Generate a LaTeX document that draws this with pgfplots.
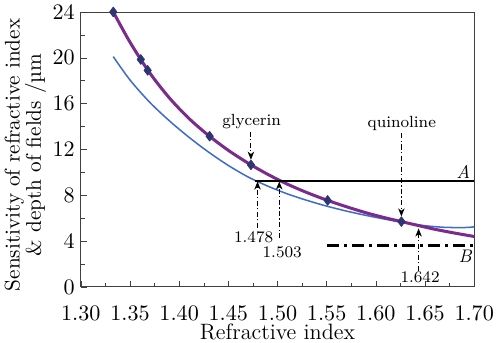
\documentclass[border=0pt]{standalone}
\usepackage{pgfplots}
\pgfplotsset{compat=1.18}
\usetikzlibrary{arrows.meta}
\definecolor{purp}{HTML}{7A2B8C}
\definecolor{blu}{HTML}{3E6CC8}
\definecolor{mk}{HTML}{2F3572}
\begin{document}
\begin{tikzpicture}
\useasboundingbox (-40pt,-27.7pt) rectangle (206pt,142pt);
\begin{axis}[
  scale only axis, width=194.7pt, height=136.1pt,
  xmin=1.30, xmax=1.70, ymin=0, ymax=24,
  xtick={1.30,1.35,1.40,1.45,1.50,1.55,1.60,1.65,1.70},
  ytick={0,4,8,12,16,20,24},
  minor x tick num=1, minor y tick num=1,
  tick pos=left, tick align=inside,
  major tick length=3pt, minor tick length=2pt,
  tick label style={font=\fontsize{11}{13}\selectfont},
  xticklabel style={/pgf/number format/fixed, /pgf/number format/fixed zerofill, /pgf/number format/precision=2, inner sep=1pt, yshift=-8.3pt},
  yticklabel style={xshift=0.5pt},
  axis line style={black!75}, tick style={black!75},
  clip=false,
  every axis plot/.append style={line join=round},
]
% blue curve
\addplot[blu, line width=0.75pt, smooth] coordinates {
 (1.333,20.1) (1.35,18.06) (1.37,16.12) (1.39,14.5) (1.41,13.06) (1.43,11.76)
 (1.45,10.6) (1.47,9.6) (1.49,8.8) (1.51,8.12) (1.53,7.55) (1.55,7.05)
 (1.57,6.62) (1.59,6.24) (1.61,5.9) (1.63,5.59) (1.65,5.34) (1.67,5.2)
 (1.69,5.18) (1.70,5.24)};
% purple curve
\addplot[purp, line width=1.5pt, smooth] coordinates {
 (1.333,24) (1.35,21.36) (1.37,18.69) (1.39,16.5) (1.41,14.7) (1.43,13.21)
 (1.45,11.92) (1.47,10.81) (1.49,9.83) (1.51,8.97) (1.53,8.23) (1.55,7.58)
 (1.57,7.0) (1.59,6.47) (1.61,6.02) (1.626,5.7) (1.642,5.38) (1.66,5.03)
 (1.68,4.7) (1.70,4.4)};
% measured points
\addplot[only marks, mark=diamond*, mark size=2.4pt, mk] coordinates {
 (1.333,24) (1.361,19.85) (1.368,18.9) (1.431,13.15) (1.473,10.65) (1.551,7.55) (1.626,5.7)};
% line A
\addplot[black, line width=1pt] coordinates {(1.4774,9.25) (1.70,9.25)};
% line B
\addplot[black, line width=1.3pt, dash pattern=on 6pt off 2.5pt on 1.5pt off 2.5pt] coordinates {(1.550,3.6) (1.70,3.6)};

\node[font=\itshape\small] at (axis cs:1.689,10.0) {A};
\node[font=\itshape\small] at (axis cs:1.691,2.65) {B};

\tikzset{ann/.style={black, line width=0.5pt, dash pattern=on 2.5pt off 1.2pt on 0.6pt off 1.2pt, -{Stealth[length=4pt,width=3.2pt,inset=1.2pt]}}}
\node[font=\footnotesize] at (axis cs:1.4737,14.4) {glycerin};
\draw[ann] (axis cs:1.473,13.55) -- (axis cs:1.473,11.1);
\node[font=\footnotesize] at (axis cs:1.6264,14.3) {quinoline};
\draw[ann] (axis cs:1.626,13.4) -- (axis cs:1.626,6.15);
\draw[ann] (axis cs:1.4797,5.15) -- (axis cs:1.4797,9.2);
\node[font=\footnotesize] at (axis cs:1.4758,4.36) {1.478};
\draw[ann] (axis cs:1.5018,4.25) -- (axis cs:1.5018,9.2);
\node[font=\footnotesize] at (axis cs:1.5048,3.05) {1.503};
\draw[ann] (axis cs:1.6435,1.4) -- (axis cs:1.6435,5.1);
\node[font=\footnotesize] at (axis cs:1.645,0.83) {1.642};

\node[anchor=base, inner sep=0.5pt, font=\fontsize{11}{13}\selectfont, yshift=-26pt] at (axis description cs:0.5,0) {Refractive index};

\node[rotate=90, align=center, font=\fontsize{10.5}{10.5}\selectfont] at (axis description cs:-0.141,0.48)
 {Sensitivity of refractive index\\ \& depth of fields /\textmu m};
\end{axis}
\end{tikzpicture}
\end{document}
